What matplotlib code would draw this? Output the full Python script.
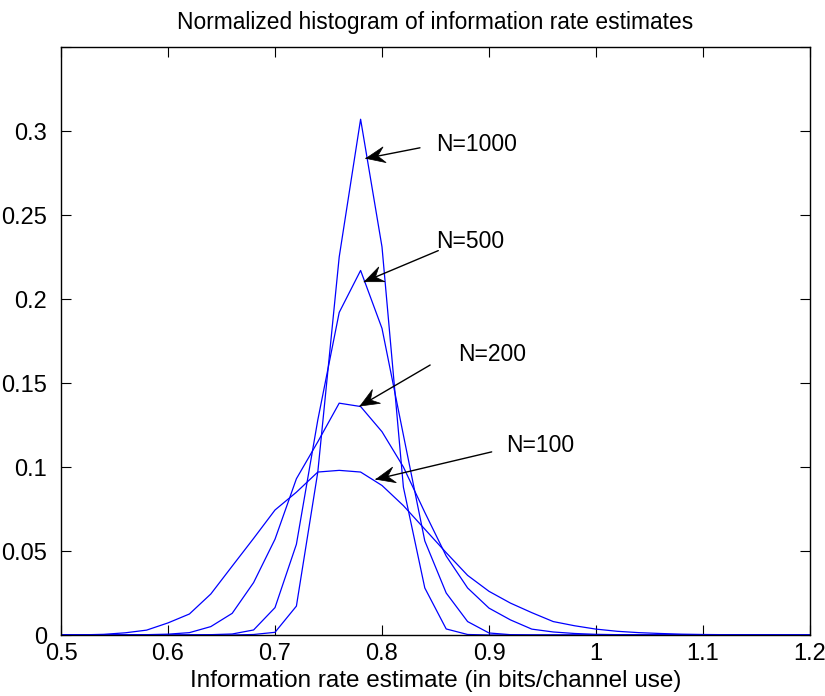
import numpy as np
import matplotlib
matplotlib.use("Agg")
import matplotlib.pyplot as plt
from matplotlib.patches import Polygon
from matplotlib.transforms import IdentityTransform

plt.rcParams['font.family'] = ['Liberation Sans', 'DejaVu Sans']

# Bin centres (information rate estimate)
rate = [0.50, 0.52, 0.54, 0.56, 0.58, 0.60, 0.62, 0.64, 0.66, 0.68,
        0.70, 0.72, 0.74, 0.76, 0.78, 0.80, 0.82, 0.84, 0.86, 0.88,
        0.90, 0.92, 0.94, 0.96, 0.98, 1.00, 1.02, 1.04, 1.06, 1.08,
        1.10, 1.12, 1.14, 1.16, 1.18, 1.20]

hist_n100 = [0.0, 0.0001, 0.0004, 0.0013, 0.0029, 0.0072, 0.0125, 0.0244, 0.041, 0.0575,
             0.0744, 0.085, 0.097, 0.098, 0.097, 0.089, 0.077, 0.063, 0.049, 0.0355,
             0.026, 0.019, 0.0133, 0.008, 0.0055, 0.0035, 0.0022, 0.0014, 0.0009, 0.0005,
             0.0003, 0.0002, 0.0001, 0.0001, 0.0, 0.0]

hist_n200 = [0.0, 0.0, 0.0, 0.0001, 0.0002, 0.0005, 0.0014, 0.005, 0.0129, 0.0312,
             0.057, 0.093, 0.115, 0.138, 0.136, 0.121, 0.100, 0.073, 0.047, 0.028,
             0.016, 0.009, 0.0035, 0.0018, 0.0009, 0.0004, 0.0002, 0.0001, 0.0, 0.0,
             0.0, 0.0, 0.0, 0.0, 0.0, 0.0]

hist_n500 = [0.0, 0.0, 0.0, 0.0, 0.0, 0.0, 0.0001, 0.0002, 0.0006, 0.003,
             0.0163, 0.054, 0.128, 0.192, 0.217, 0.1825, 0.119, 0.056, 0.025, 0.008,
             0.0012, 0.0002, 0.0, 0.0, 0.0, 0.0, 0.0, 0.0, 0.0, 0.0,
             0.0, 0.0, 0.0, 0.0, 0.0, 0.0]

hist_n1000 = [0.0, 0.0, 0.0, 0.0, 0.0, 0.0, 0.0, 0.0, 0.0, 0.0003,
              0.0016, 0.0172, 0.097, 0.225, 0.307, 0.231, 0.088, 0.028, 0.0036, 0.0003,
              0.0, 0.0, 0.0, 0.0, 0.0, 0.0, 0.0, 0.0, 0.0, 0.0,
              0.0, 0.0, 0.0, 0.0, 0.0, 0.0]

labels = ["N=1000", "N=500", "N=200", "N=100"]
label_pos = [(0.851, 0.2917), (0.851, 0.234), (0.871, 0.1667), (0.916, 0.113)]
arrow_tail = [(0.8355, 0.290), (0.8526, 0.2288), (0.845, 0.1607), (0.9025, 0.109)]
arrow_tip = [(0.785, 0.2837), (0.7835, 0.2103), (0.7795, 0.1363), (0.7944, 0.0927)]

xticks = [0.5, 0.6, 0.7, 0.8, 0.9, 1.0, 1.1, 1.2]
xticklabels = ["0.5", "0.6", "0.7", "0.8", "0.9", "1", "1.1", "1.2"]
yticks = [0, 0.05, 0.1, 0.15, 0.2, 0.25, 0.3]
yticklabels = ["0", "0.05", "0.1", "0.15", "0.2", "0.25", "0.3"]

FS = 17

fig = plt.figure(figsize=(8.25, 6.96), dpi=100)
ax = fig.add_axes([61 / 825, 1 - 635 / 696, 749 / 825, 588 / 696])

for h in (hist_n100, hist_n200, hist_n500, hist_n1000):
    ax.plot(rate, h, color=(0, 0, 1), lw=0.9)

ax.set_xlim(0.5, 1.2)
ax.set_ylim(0, 0.35)
ax.set_xticks(xticks)
ax.set_xticklabels(xticklabels)
ax.set_yticks(yticks + [0.35])
ax.set_yticklabels(yticklabels + [""])
ax.tick_params(direction='in', length=7, width=0.8, top=True, right=True,
               labelsize=FS)
ax.tick_params(axis='x', pad=6)
ax.tick_params(axis='y', pad=10)
for s in ax.spines.values():
    s.set_linewidth(1.0)

ax.set_title("Normalized histogram of information rate estimates", fontsize=16.4, pad=13)
ax.set_xlabel("Information rate estimate (in bits/channel use)", fontsize=17.5, labelpad=3)

for lab, (tx, ty) in zip(labels, label_pos):
    ax.text(tx, ty, lab, fontsize=16.5, ha='left', va='center')

# arrows: line plus notched arrow head (MATLAB style)
L, W, NOTCH = 19.0, 8.0, 12.0
for (x0, y0), (x1, y1) in zip(arrow_tail, arrow_tip):
    ax.annotate('', xy=(x1, y1), xytext=(x0, y0),
                arrowprops=dict(arrowstyle='-', color='black', lw=1.0,
                                shrinkA=0, shrinkB=0))
    p0 = ax.transData.transform((x0, y0))
    p1 = ax.transData.transform((x1, y1))
    u = (p0 - p1) / np.hypot(*(p0 - p1))
    n = np.array([-u[1], u[0]])
    pts = [p1, p1 + L * u + W * n, p1 + NOTCH * u, p1 + L * u - W * n]
    poly = Polygon(pts, closed=True, transform=IdentityTransform(),
                   facecolor='black', edgecolor='black', lw=0.5, clip_on=False)
    fig.patches.append(poly)

fig.savefig("out.png", dpi=100)
